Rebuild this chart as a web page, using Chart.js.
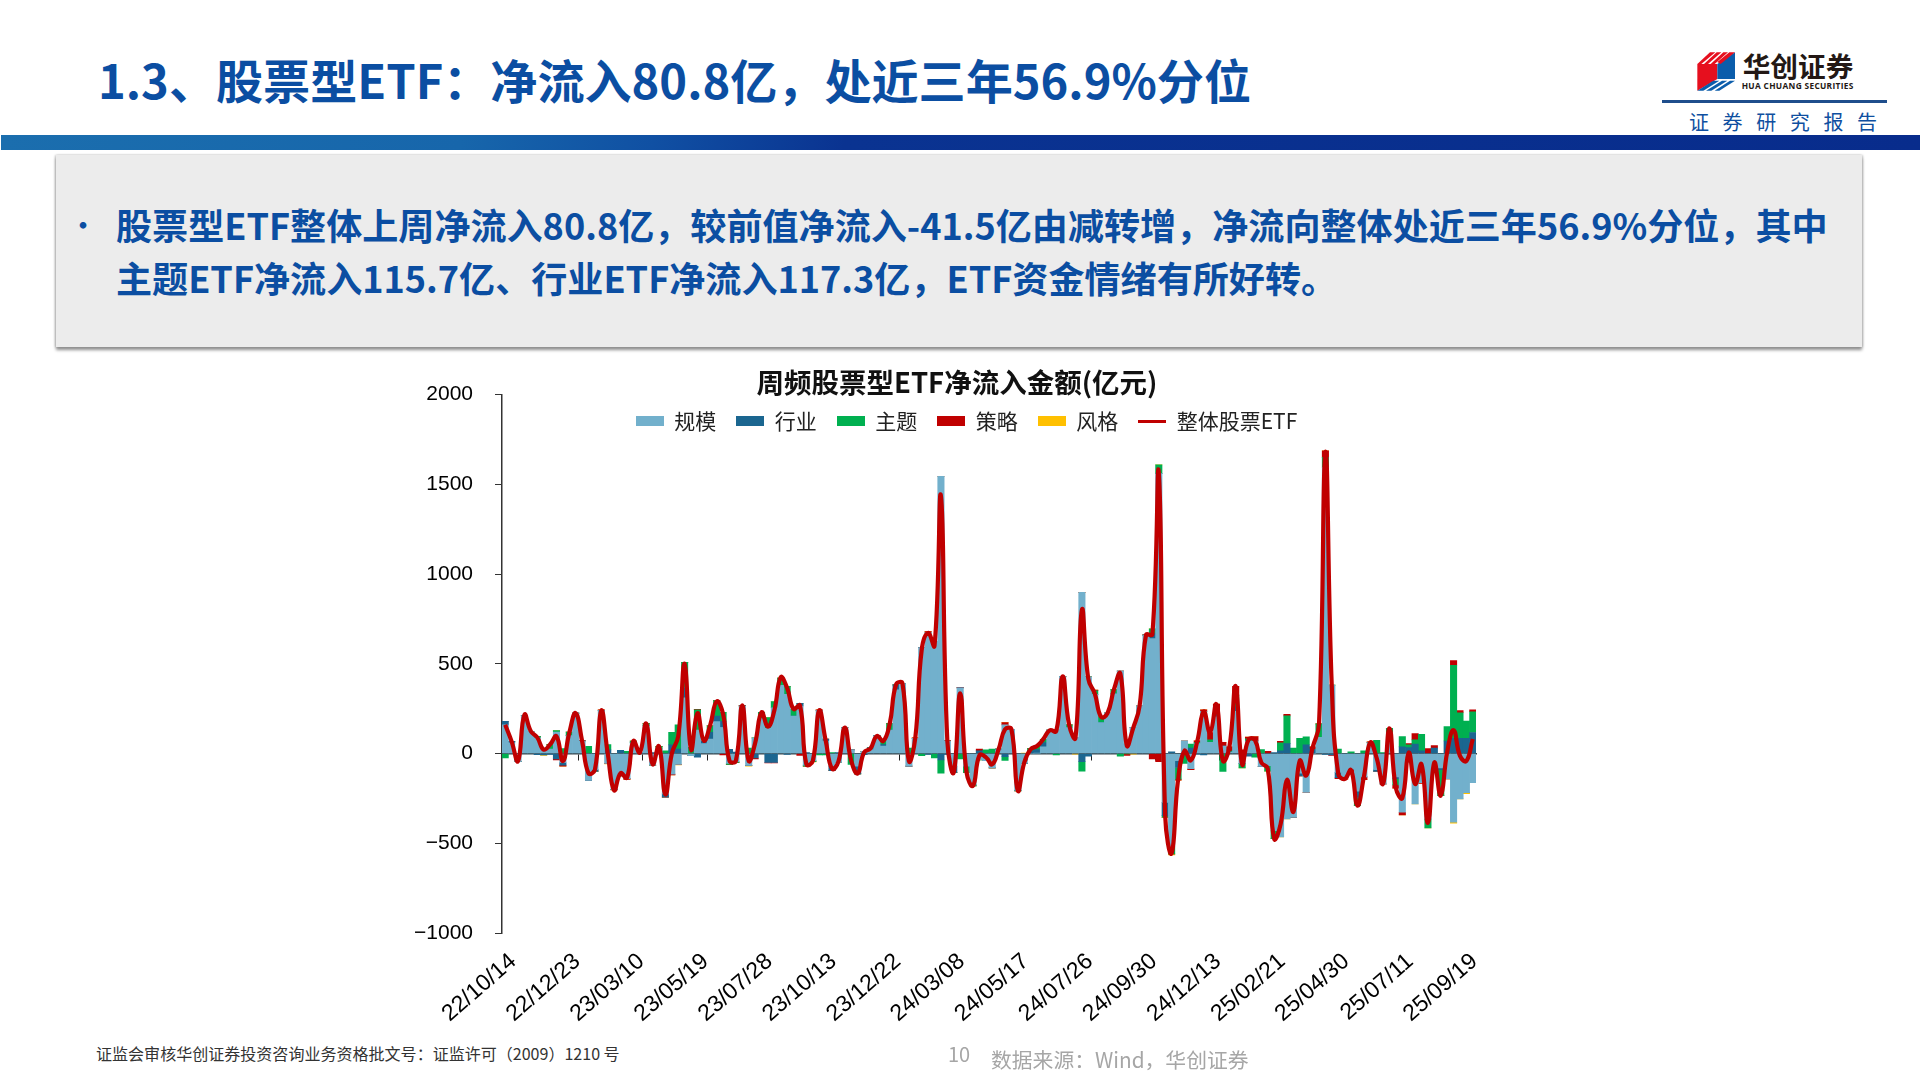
<!DOCTYPE html>
<html lang="zh-CN">
<head>
<meta charset="utf-8">
<title>周频股票型ETF净流入金额</title>
<script src="https://cdn.jsdelivr.net/npm/chart.js@4/dist/chart.umd.min.js"></script>
<style>
    html, body { margin: 0; padding: 0; background: #fff; }
    #slide { position: relative; width: 1920px; height: 1080px; overflow: hidden; font-family: "Noto Sans CJK SC", sans-serif; }
    #slide div { position: absolute; white-space: nowrap; }
    #heading { left: 98px; top: 44px; font-size: 47.1px; line-height: 70px; font-weight: 700; color: #0b4ea2; }
    #band { left: 1px; top: 135px; width: 1919px; height: 15px; background: linear-gradient(100deg, #1b6eae 0, #1766ab 24%, #1050a3 34%, #0a3391 44%, #082c8c 100%); }
    #box { left: 56px; top: 155px; width: 1806px; height: 192px; background: #ececec; box-shadow: 0 3px 3px #8f8f8f, -1px 0 2px #ccc, 1px 0 2px #ccc; }
    .point { left: 116px; font-size: 36.1px; line-height: 52px; font-weight: 700; color: #0b4ea2; }
    #dot { left: 70px; top: 198px; font-size: 26px; line-height: 52px; font-weight: 700; color: #0b4ea2; }
    #report { left: 1689px; top: 108px; font-size: 20px; line-height: 28px; letter-spacing: 13.6px; color: #0f4fa0; }
    #rule { left: 1662px; top: 100px; width: 225px; height: 3px; background: #1f4e8c; }
    #permit { left: 96px; top: 1041px; font-size: 16.05px; line-height: 24px; color: #333; }
    #page { left: 948px; top: 1041px; font-size: 20px; line-height: 26px; color: #a6a6a6; }
    #source { left: 991px; top: 1045px; font-size: 20.8px; line-height: 28px; color: #a6a6a6; }
    #chart { position: absolute; left: 400px; top: 360px; }
</style>
</head>
<body>
<div id="slide">
    <div id="heading">1.3、股票型ETF：净流入80.8亿，处近三年56.9%分位</div>
    <svg id="logo" style="position:absolute;left:1650px;top:40px" width="250" height="60" viewBox="0 0 750 180">
        <polygon points="142,72 202,72 202,117 142,152" fill="#e60f1e"/>
        <polygon points="202,72 255,37 255,117 202,117" fill="#0b5dab"/>
        <polygon points="142,72 180,37 196,37 154,72" fill="#e60f1e"/>
        <polygon points="162,72 200,37 214,37 174,72" fill="#e60f1e"/>
        <polygon points="182,72 220,37 234,37 194,72" fill="#e60f1e"/>
        <polygon points="202,66 238,37 255,37 212,72" fill="#e60f1e"/>
        <polygon points="142,152 190,122 208,122 160,152" fill="#0b5dab"/>
        <polygon points="168,152 216,122 232,122 184,152" fill="#0b5dab"/>
        <polygon points="194,152 240,122 255,122 208,152" fill="#0b5dab"/>
        <text x="278" y="112" font-size="83" font-weight="700" fill="#231815" font-family="Noto Sans CJK SC">华创证券</text>
        <text x="275" y="146" font-size="25" font-weight="700" fill="#231815" font-family="Open Sans" textLength="335">HUA CHUANG SECURITIES</text>
    </svg>
    <div id="rule"></div>
    <div id="report">证券研究报告</div>
    <div id="band"></div>
    <div id="box"></div>
    <div id="dot">•</div>
    <div class="point" style="top:198px">股票型ETF整体上周净流入80.8亿，较前值净流入-41.5亿由减转增，净流向整体处近三年56.9%分位，其中</div>
    <div class="point" style="top:251px">主题ETF净流入115.7亿、行业ETF净流入117.3亿，ETF资金情绪有所好转。</div>
    <canvas id="chart" width="1114" height="680"></canvas>
    <div id="permit">证监会审核华创证券投资咨询业务资格批文号：证监许可（2009）1210 号</div>
    <div id="page">10</div>
    <div id="source">数据来源：Wind，华创证券</div>
</div>
<script>
"use strict";

var tickLabels = ['22/10/14', '22/12/23', '23/03/10', '23/05/19', '23/07/28', '23/10/13', '23/12/22', '24/03/08',
    '24/05/17', '24/07/26', '24/09/30', '24/12/13', '25/02/21', '25/04/30', '25/07/11', '25/09/19'];

var guimo = [
    160,60,-45,210,124,88,25,25,120,-50,
    100,225,70,-150,-90,240,-55,-200,-125,-140,
    60,5,155,-65,25,-225,-115,-60,310,-12,
    130,55,80,178,145,-55,-45,265,-66,87,
    195,140,255,380,330,208,265,-65,-40,240,
    70,-70,-50,145,20,-70,12,22,100,42,
    130,355,390,-70,85,590,676,625,1545,70,
    -70,366,-70,-175,-35,-40,-80,20,160,135,
    -205,-55,0,2,37,130,130,430,145,90,
    898,428,330,172,225,332,460,52,145,265,
    660,640,1560,-272,-520,-40,70,-85,55,235,
    62,205,42,8,235,-55,70,70,-72,-68,
    -430,-465,-365,-355,-110,-216,0,90,1594,381,
    -105,-133,-87,-210,-130,60,-90,-170,115,-130,
    -327,-50,-281,-162,-365,-95,-80,-142,-383,-253,-218,-162
];
var hangye = [
    20,8,0,0,0,-6,-8,-5,-30,-15,
    0,0,0,0,-8,0,20,0,18,0,
    0,0,0,5,0,-18,48,25,58,0,
    -20,15,38,30,35,23,8,0,0,-25,
    0,-50,-50,0,-5,0,15,5,0,0,
    10,-25,5,0,0,-43,-6,10,0,8,
    0,28,0,0,0,0,-5,0,-36,-5,
    -35,0,0,0,15,0,0,5,-18,0,
    0,0,15,20,24,0,0,0,0,0,
    -45,-15,0,0,0,0,0,0,0,0,
    0,28,0,-74,10,-38,0,30,-3,-8,
    0,20,0,0,25,0,-15,0,0,0,
    5,15,55,0,-15,48,22,0,-5,-8,
    -30,0,0,-35,0,0,-10,0,0,-10,
    37,33,52,15,0,30,-10,70,85,85,85,117.3
];
var zhuti = [
    -24,0,0,0,0,8,0,25,8,28,
    20,0,0,40,0,0,30,0,0,12,
    10,0,12,0,15,15,70,135,140,34,
    113,0,37,87,50,-5,-4,0,30,0,
    35,60,35,40,45,37,0,-5,-5,-8,
    -8,5,0,0,-60,0,0,0,0,22,
    37,0,0,30,0,-12,0,-25,-74,0,
    0,-30,-35,-5,0,20,25,0,-20,0,
    -3,0,12,20,18,0,-8,0,15,0,
    -53,0,20,32,0,25,-15,-2,0,0,
    0,27,48,-9,-40,-65,-55,22,8,0,
    15,0,-100,5,65,-25,12,-20,22,-30,
    -45,45,155,30,85,45,0,75,56,0,
    25,0,10,-45,15,0,74,5,25,-35,
    57,15,24,92,-50,0,-145,80,407,142,96,115.7
];
var celue = [
    0,0,0,0,0,0,0,0,-5,-5,
    0,0,4,0,0,4,0,-3,0,-4,
    0,0,0,0,0,0,-4,0,0,0,
    4,0,0,0,-8,0,0,3,0,-5,
    0,-2,-2,0,0,0,-10,0,0,3,
    0,0,0,0,0,0,0,0,0,0,
    0,0,0,0,3,0,3,0,0,3,
    0,3,0,0,10,0,0,0,12,0,
    0,0,0,0,0,0,0,0,0,0,
    0,0,3,0,0,0,0,-8,0,0,
    3,-30,-45,0,0,-5,0,-5,8,8,
    40,50,20,25,50,20,10,25,0,12,
    0,8,8,0,0,0,15,0,37,-3,
    -5,-10,-15,0,-15,5,0,0,0,-18,
    -15,8,35,-5,28,15,0,0,26,13,0,10
];
var fengge = [
    0,0,0,0,0,0,-2,0,0,0,
    0,0,0,0,0,0,-3,0,0,0,
    0,0,0,0,0,0,0,-3,0,0,
    0,0,0,0,0,0,0,0,-4,0,
    0,0,0,0,0,0,0,0,-2,0,
    0,0,0,0,0,0,0,0,0,0,
    0,0,0,0,0,0,0,0,0,0,
    0,0,0,0,0,0,-2,0,0,0,
    0,3,0,0,0,0,0,0,0,-4,
    0,0,0,0,0,0,0,0,-3,0,
    0,0,0,0,-5,0,0,0,0,0,
    0,0,0,0,0,0,0,0,0,0,
    0,0,0,0,0,0,0,0,0,0,
    0,0,0,0,0,0,0,0,0,0,
    0,0,0,0,0,0,0,0,-5,0,-5,0
];
var zhengti = [
    160,68,-42,216,124,90,22,50,96,-42,
    115,225,70,-110,-90,240,0,-205,-110,-135,
    70,5,167,-60,40,-228,0,96,500,22,
    225,72,160,290,220,-40,-40,268,-40,57,
    230,150,240,425,365,248,268,-60,-42,240,
    75,-85,-45,145,-40,-111,6,28,98,70,
    165,385,390,-42,88,578,672,600,1435,68,
    -105,336,-105,-180,-10,-20,-60,24,134,135,
    -207,-50,24,42,82,130,125,430,160,88,
    800,415,335,204,225,357,445,45,142,265,
    660,665,1563,-350,-555,-148,15,-38,68,235,
    117,274,-40,33,375,-60,77,75,-50,-85,
    -475,-395,-147,-325,-40,-123,33,163,1680,370,
    -112,-142,-92,-290,-130,62,-26,-168,140,-193,
    -248,5,-170,-60,-387,-50,-235,8,130,-13,-41.5,80.8
];

// only every 10th week carries a date on the axis
var categories = zhengti.map(function(v, i) {
    return i % 10 === 0 ? tickLabels[i / 10] : '';
});

function barSet(label, data, color) {
    return {
        type: 'bar',
        label: label,
        data: data,
        backgroundColor: color,
        barPercentage: 1,
        categoryPercentage: 1,
        order: 1
    };
}

// legend swatch: wide flat box, or a thin bar for the line series
function swatch(color, height) {
    var c = document.createElement('canvas');
    c.width = 28;
    c.height = height;
    var g = c.getContext('2d');
    g.fillStyle = color;
    g.fillRect(0, 0, 28, height);
    return c;
}

var swatches = [
    swatch('#72b0cc', 10), swatch('#1b6690', 10), swatch('#00b050', 10),
    swatch('#c00000', 10), swatch('#ffc000', 10), swatch('#c00000', 3)
];

// the legend lies over the top of the plot, so it must not take layout height
var overlayLegend = {
    id: 'overlayLegend',
    beforeLayout: function(chart) {
        var legend = chart.legend;
        var fit = legend.fit;
        legend.fit = function() {
            fit.call(this);
            this.height = 0;
        };
    },
    afterLayout: function(chart) {
        var legend = chart.legend;
        legend.top -= 4;
        legend.bottom = legend.top + 60;
        legend.right += 57;
        chart.titleBlock.left += 19;
        chart.titleBlock.right += 19;
    }
};

new Chart(document.getElementById('chart'), {
    data: {
        labels: categories,
        datasets: [
            barSet('规模', guimo, '#72b0cc'),
            barSet('行业', hangye, '#1b6690'),
            barSet('主题', zhuti, '#00b050'),
            barSet('策略', celue, '#c00000'),
            barSet('风格', fengge, '#ffc000'),
            {
                type: 'line',
                label: '整体股票ETF',
                data: zhengti,
                stack: 'total',
                borderColor: '#c00000',
                backgroundColor: '#c00000',
                borderWidth: 4.2,
                tension: 0.45,
                pointRadius: 0,
                borderJoinStyle: 'round',
                order: 0
            }
        ]
    },
    plugins: [overlayLegend],
    options: {
        responsive: false,
        animation: false,
        layout: { padding: { top: 10, right: 38, left: 0, bottom: 0 } },
        plugins: {
            tooltip: { enabled: false },
            title: {
                display: true,
                text: '周频股票型ETF净流入金额(亿元)',
                color: '#111',
                padding: 0,
                font: { family: 'Noto Sans CJK SC', size: 27.5, weight: '700', lineHeight: 0.87 }
            },
            legend: {
                position: 'top',
                labels: {
                    usePointStyle: true,
                    pointStyleWidth: 28,
                    padding: 20,
                    color: '#222',
                    font: { family: 'Noto Sans CJK SC', size: 21 },
                    sort: function(a, b) { return a.datasetIndex - b.datasetIndex; },
                    generateLabels: function(chart) {
                        var items = Chart.defaults.plugins.legend.labels.generateLabels(chart);
                        items.forEach(function(item) {
                            item.pointStyle = swatches[item.datasetIndex];
                        });
                        return items;
                    }
                }
            }
        },
        scales: {
            x: {
                stacked: true,
                offset: true,
                grid: { display: false },
                border: { display: false },
                afterFit: function(scale) { scale.height = 107; },
                ticks: {
                    autoSkip: false,
                    minRotation: 41,
                    maxRotation: 41,
                    padding: 7,
                    labelOffset: 8,
                    color: '#000',
                    font: { family: 'Liberation Sans', size: 23 }
                }
            },
            // zero line with its week marks; the dates stay at the bottom on x
            x2: {
                type: 'category',
                labels: categories,
                position: { y: 0 },
                offset: true,
                z: 1,
                border: { color: '#37474f', width: 1.5 },
                grid: {
                    offset: true,
                    drawOnChartArea: false,
                    tickLength: 6,
                    tickColor: function(ctx) {
                        return ctx.index % 10 === 2 ? '#222' : 'rgba(0,0,0,0)';
                    }
                },
                ticks: { display: false, autoSkip: false }
            },
            y: {
                stacked: true,
                min: -1000,
                max: 2000,
                afterFit: function(scale) { scale.width = 102; },
                border: { color: '#333', width: 1.5 },
                grid: { drawOnChartArea: false, tickLength: 7, tickColor: '#333' },
                ticks: {
                    stepSize: 500,
                    padding: 22,
                    color: '#000',
                    font: { family: 'Liberation Sans', size: 21 },
                    callback: function(value) { return String(value).replace('-', '−'); }
                }
            }
        }
    }
});
</script>
</body>
</html>
